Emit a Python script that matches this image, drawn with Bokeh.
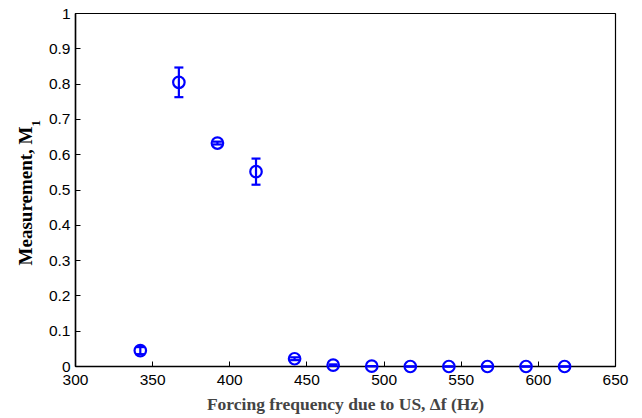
from bokeh.plotting import figure
from bokeh.models import FixedTicker
from bokeh.core.properties import value
from bokeh.embed import file_html
from bokeh.resources import INLINE

# Forcing frequency (Hz), measured M1 and its error half-width
freq = [342, 367, 392, 417, 442, 467, 492, 517, 542, 567, 592, 617]
m1 = [0.045, 0.805, 0.633, 0.552, 0.022, 0.004, 0.001, 0.0, 0.0, 0.0, 0.0, 0.0]
m1_err = [0.010, 0.042, 0.004, 0.037, 0.004, 0.002, 0.0, 0.0, 0.0, 0.0, 0.0, 0.0]

x_ticks = [300, 350, 400, 450, 500, 550, 600, 650]
y_ticks = [0, 0.1, 0.2, 0.3, 0.4, 0.5, 0.6, 0.7, 0.8, 0.9, 1]
y_tick_labels = ["0", "0.1", "0.2", "0.3", "0.4", "0.5", "0.6", "0.7", "0.8", "0.9", "1"]

BLUE = "#0000ff"
TICK_FONT = "Liberation Sans"
LABEL_FONT = "Liberation Serif"

X0, X1 = 300, 650
Y0, Y1 = 0, 1

p = figure(width=642, height=418, x_range=(X0, X1), y_range=(Y0, Y1),
           output_backend="svg", toolbar_location=None,
           min_border_left=75, min_border_right=27,
           min_border_top=13, min_border_bottom=52)

p.xgrid.visible = False
p.ygrid.visible = False
p.outline_line_color = "black"
p.outline_line_width = 1.2
p.background_fill_color = "white"
p.border_fill_color = "white"

for ax in (p.xaxis[0], p.yaxis[0]):
    ax.axis_line_color = "black"
    ax.axis_line_width = 1.5
    ax.major_tick_in = 5
    ax.major_tick_out = 0
    ax.minor_tick_in = 0
    ax.minor_tick_out = 0
    ax.major_tick_line_color = "black"
    ax.major_label_text_font = TICK_FONT
    ax.major_label_text_font_size = "15.5px"
    ax.major_label_text_color = "black"

p.xaxis.ticker = FixedTicker(ticks=x_ticks)
p.yaxis.ticker = FixedTicker(ticks=y_ticks)
p.yaxis.major_label_overrides = {t: s for t, s in zip(y_ticks, y_tick_labels)}
p.xaxis.major_label_standoff = 8
p.yaxis.major_label_standoff = 5

p.xaxis.axis_label = "Forcing frequency due to US, \u0394f (Hz)"
p.xaxis.axis_label_text_font = LABEL_FONT
p.xaxis.axis_label_text_font_style = "bold"
p.xaxis.axis_label_text_font_size = "17.5px"
p.xaxis.axis_label_standoff = 6

# Vertical axis title with a subscript: two rotated texts drawn on the
# overlay level so they are not clipped to the plotting frame
px_per_x = 540 / (X1 - X0)
title_top = 0.68
p.text(x=[X0 - 50 / px_per_x], y=[title_top], text=["Measurement, M"],
       angle=1.5708, text_font=value(LABEL_FONT), text_font_style="bold",
       text_font_size="19px", text_align="right", text_baseline="middle",
       text_color="black", level="overlay")
p.text(x=[X0 - 40 / px_per_x], y=[title_top], text=["1"],
       angle=1.5708, text_font=value(LABEL_FONT), text_font_style="bold",
       text_font_size="13px", text_align="left", text_baseline="middle",
       text_color="black", level="overlay")

# Error bars: stems and caps (overlay level so points on y=0 stay whole)
lo = [v - e for v, e in zip(m1, m1_err)]
hi = [v + e for v, e in zip(m1, m1_err)]
p.segment(x0=freq, y0=lo, x1=freq, y1=hi, line_color=BLUE, line_width=2.2,
          level="overlay")
p.scatter(x=freq, y=lo, marker="dash", size=9, line_color=BLUE, line_width=2.2,
          level="overlay")
p.scatter(x=freq, y=hi, marker="dash", size=9, line_color=BLUE, line_width=2.2,
          level="overlay")

# Measured points
p.scatter(x=freq, y=m1, marker="circle", size=11.5, fill_color=None,
          line_color=BLUE, line_width=2.2, level="overlay")

open("out.html", "w").write(file_html(p, INLINE))
